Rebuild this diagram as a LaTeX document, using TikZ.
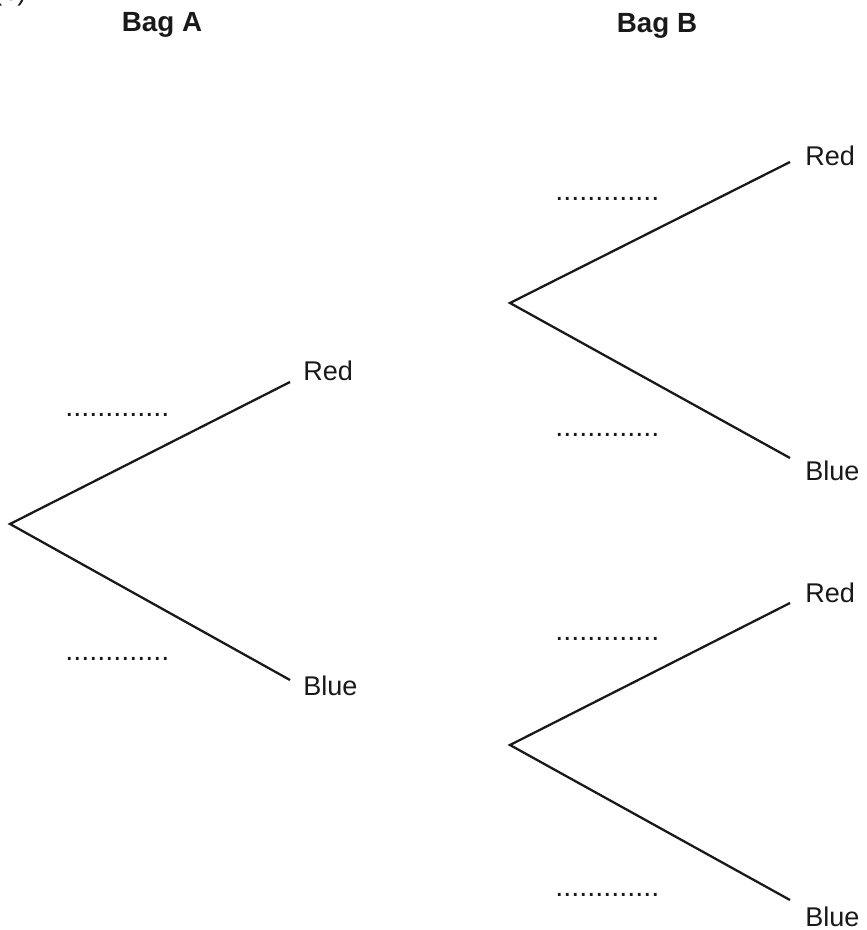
\documentclass[tikz,border=0pt]{standalone}
\usepackage{fontspec}
\setmainfont{Liberation Sans}
\usetikzlibrary{positioning}

\begin{document}
\begin{tikzpicture}[x=0.02cm, y=-0.02cm,
    branch/.style={line width=1.3pt, black!90},
    lbl/.style={font=\fontsize{15.4}{18}\selectfont, text=black!90, inner sep=0pt, anchor=base west},
    bag/.style={font=\bfseries\fontsize{15.8}{18}\selectfont, text=black!90, inner sep=0pt, anchor=base},
    blank/.style={lbl, font=\fontsize{16.4}{18}\selectfont}]
  \useasboundingbox (0,0) rectangle (866,930);
  \node[lbl] (part) at (-7,0) {(b)};
  \node[bag] (bagA) at (162,31.5) {Bag A};
  \node[bag] (bagB) at (657,32) {Bag B};

  % Bag A
  \coordinate (rA) at (10,524);
  \coordinate (aR) at (290,382);
  \coordinate (aB) at (290,680);
  \draw[branch] (aR) -- (rA) -- (aB);
  \node[lbl] (aRed) at (303,380) {Red};
  \node[lbl] (aBlue) at (303,695) {Blue};
  \node[blank] (aRp) at (65,416.5) {.............};
  \node[blank] (aBp) at (65,660.5) {.............};

  % Bag B, after red
  \coordinate (rB1) at (510,303);
  \coordinate (b1R) at (790,162);
  \coordinate (b1B) at (790,458);
  \draw[branch] (b1R) -- (rB1) -- (b1B);
  \node[lbl] (b1Red) at (805,165) {Red};
  \node[lbl] (b1Blue) at (805,480) {Blue};
  \node[blank] (b1Rp) at (555,200.5) {.............};
  \node[blank] (b1Bp) at (555,436.5) {.............};

  % Bag B, after blue
  \coordinate (rB2) at (510,745);
  \coordinate (b2R) at (790,603);
  \coordinate (b2B) at (790,900);
  \draw[branch] (b2R) -- (rB2) -- (b2B);
  \node[lbl] (b2Red) at (805,602) {Red};
  \node[lbl] (b2Blue) at (805,926) {Blue};
  \node[blank] (b2Rp) at (555,640.5) {.............};
  \node[blank] (b2Bp) at (555,896.5) {.............};
\end{tikzpicture}
\end{document}
